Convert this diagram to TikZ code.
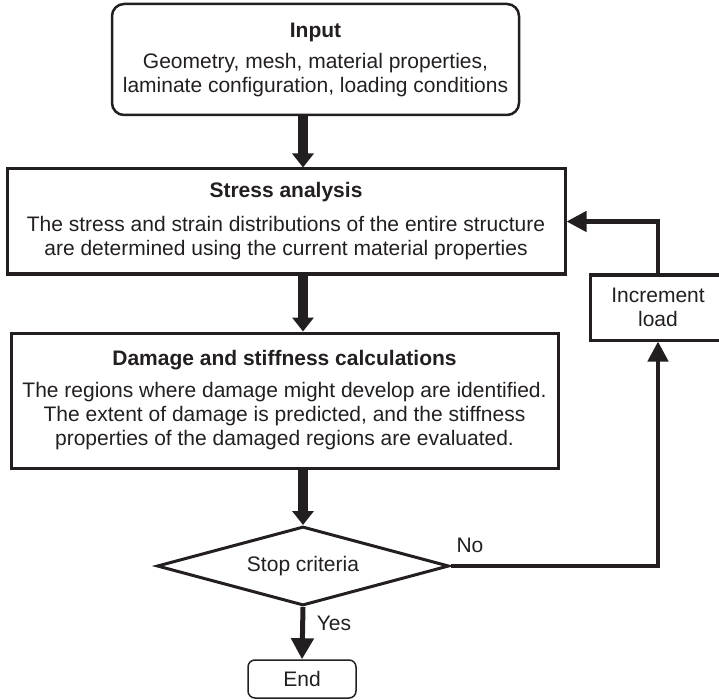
\documentclass[tikz,border=0pt]{standalone}
\usepackage{fontspec}
\setmainfont{Liberation Sans}
\usetikzlibrary{arrows.meta,shapes.geometric}
\definecolor{ink}{RGB}{35,31,32}
\begin{document}
\begin{tikzpicture}[x=1pt,y=-1pt,
  every node/.style={font=\fontsize{21}{24}\selectfont, text=ink},
  box/.style={draw=ink, line width=3pt, align=center, inner sep=0pt},
  decision/.style={draw=ink, line width=3pt, diamond, shape aspect=3.7, inner sep=0pt},
  label/.style={inner sep=0pt},
  mainflow/.style={draw=ink, line width=10pt, -{Triangle[length=14pt,width=21pt]}},
  loopflow/.style={draw=ink, line width=4.5pt, line join=miter, -{Triangle[length=20pt,width=20pt]}},
  exitflow/.style={draw=ink, line width=5pt, -{Triangle[length=21pt,width=22pt]}}
]
\useasboundingbox (0,0) rectangle (719,700);

% process boxes
\node[box, rounded corners=12pt, line width=2.5pt, minimum width=407pt, minimum height=111pt] (inp) at (315.5,59.5)
  {\textbf{Input}\\[7pt] Geometry, mesh, material properties,\\ laminate configuration, loading conditions};
\node[box, minimum width=558pt, minimum height=105pt] (sa) at (286,221.5)
  {\textbf{Stress analysis}\\[10pt] The stress and strain distributions of the entire structure\\ are determined using the current material properties};
\node[box, minimum width=547pt, minimum height=135pt] (dc) at (284.5,400.5)
  {\textbf{Damage and stiffness calculations}\\[8pt] The regions where damage might develop are identified.\\ The extent of damage is predicted, and the stiffness\\ properties of the damaged regions are evaluated.};
\node[decision, minimum width=292pt, minimum height=79pt] (dm) at (303,566) {Stop criteria};
\node[box, minimum width=136pt, minimum height=65pt] (inc) at (658,307.5) {Increment\\ load};
\node[box, rounded corners=7pt, line width=1.5pt, minimum width=108pt, minimum height=38pt] (fin) at (302,679) {End};

% branch labels
\node[label] (no) at (470,545) {No};
\node[label] (yes) at (334,623) {Yes};

% main flow
\draw[mainflow] (inp.south -| dm.north) -- (sa.north -| dm.north);
\draw[mainflow] (sa.south -| dm.north) -- (dc.north -| dm.north);
\draw[mainflow] (dc.south -| dm.north) -- (dm.north);
\draw[exitflow] (dm.south) -- (fin.north);

% load increment loop
\draw[loopflow] (dm.east) -| (inc.south);
\draw[loopflow] (inc.north) |- (sa.east);
\end{tikzpicture}
\end{document}
